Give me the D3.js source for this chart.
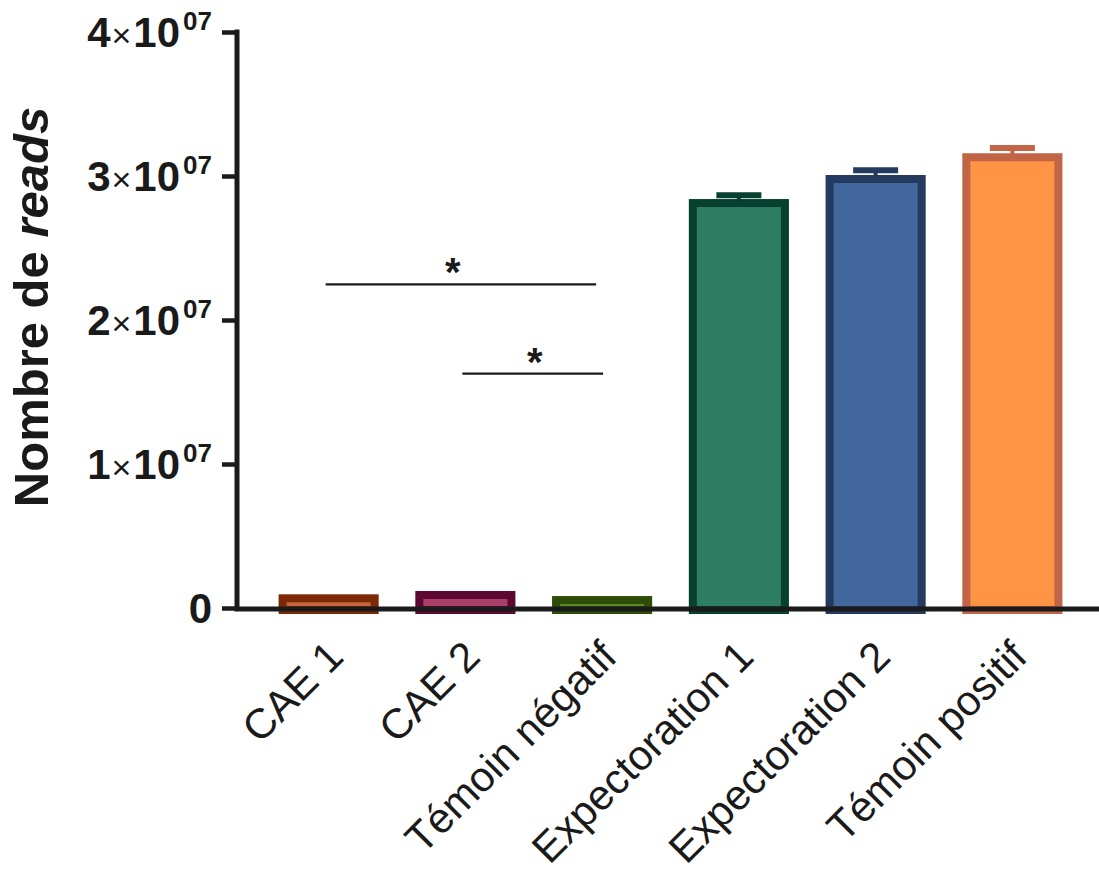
<!DOCTYPE html>
<html>
<head>
<meta charset="utf-8">
<script src="https://cdn.jsdelivr.net/npm/d3@7"></script>
<style>
  html, body { margin: 0; padding: 0; background: #fff; }
  svg { display: block; }
  text { font-family: "Liberation Sans", Arial, Helvetica, sans-serif; fill: #1a1a1a; }
</style>
</head>
<body>
<svg id="chart" width="1099" height="877"></svg>
<script>
// ---- data ----
const categories = ["CAE 1", "CAE 2", "Témoin négatif", "Expectoration 1", "Expectoration 2", "Témoin positif"];
const values = [950000, 1180000, 830000, 28400000, 30070000, 31580000];
const errors = [0, 0, 0, 470000, 530000, 570000];
const fillColors = ["#c8653f", "#a8406a", "#5d8a2a", "#2e7e64", "#42679c", "#fe9444"];
const strokeColors = ["#7b2a05", "#5c0830", "#2f4d09", "#07402e", "#243a5e", "#c26446"];
const yTicks = [0, 10000000, 20000000, 30000000, 40000000];
const yTickMantissa = ["0", "1", "2", "3", "4"];
const yTickExponent = "07";
// significance brackets: [from category, to category, y value]
const sigFrom = ["CAE 1", "CAE 2"];
const sigTo = ["Témoin négatif", "Témoin négatif"];
const sigY = [22480000, 16280000];
const sigLabel = ["*", "*"];

// ---- layout ----
const svg = d3.select("#chart");
const axisX = 237;
const y = d3.scaleLinear().domain([0, 40000000]).range([608, 32]);
const x = d3.scaleBand().domain(categories).range([axisX, 1104]).paddingInner(0.268).paddingOuter(0.304);

const SW = 8; // bar border width

// bars (border drawn inside the bar's extent)
const bars = svg.append("g");
categories.forEach((c, i) => {
  const x0 = x(c), w = x.bandwidth();
  const top = y(values[i]);
  const bottom = y(0);
  bars.append("rect")
    .attr("x", x0 + SW / 2)
    .attr("y", top + SW / 2)
    .attr("width", w - SW)
    .attr("height", Math.max(0, bottom - top - SW / 2 + 2))
    .attr("fill", fillColors[i])
    .attr("stroke", strokeColors[i])
    .attr("stroke-width", SW);
});

// error bars (upper only)
const eb = svg.append("g");
categories.forEach((c, i) => {
  if (!errors[i]) return;
  const cx = x(c) + x.bandwidth() / 2;
  const capTop = y(values[i] + errors[i]);
  const barTop = y(values[i]);
  eb.append("line")
    .attr("x1", cx).attr("x2", cx)
    .attr("y1", capTop + 3).attr("y2", barTop + 1)
    .attr("stroke", strokeColors[i]).attr("stroke-width", 4);
  eb.append("line")
    .attr("x1", cx - 22.5).attr("x2", cx + 22.5)
    .attr("y1", capTop + 3).attr("y2", capTop + 3)
    .attr("stroke", strokeColors[i]).attr("stroke-width", 6);
});

// y axis
const yAxisG = svg.append("g").attr("transform", `translate(${axisX},0)`);
yAxisG.call(d3.axisLeft(y).tickValues(yTicks).tickSize(15).tickFormat(() => ""));
yAxisG.select(".domain").attr("d", `M0,${y(40000000) - 2.5}V${y(0) + 3}`).attr("stroke", "#1a1a1a").attr("stroke-width", 5).attr("fill", "none");
yAxisG.selectAll(".tick line").attr("stroke", "#1a1a1a").attr("stroke-width", 4.5);
yAxisG.selectAll(".tick text").remove();

yTicks.forEach((v, i) => {
  const t = svg.append("text")
    .attr("x", 212)
    .attr("y", y(v))
    .attr("dy", "0.36em")
    .attr("text-anchor", "end")
    .style("font-size", "42px")
    .style("font-weight", "bold");
  if (v === 0) {
    t.text(yTickMantissa[i]);
  } else {
    t.append("tspan").text(yTickMantissa[i]);
    t.append("tspan").text("×").style("font-weight", "normal").style("font-size", "34px").attr("dx", "1");
    t.append("tspan").text("10").attr("dx", "2");
    t.append("tspan").text(yTickExponent).style("font-size", "26px").attr("dy", "-17").attr("dx", "3");
  }
});

// x axis line
const xAxisG = svg.append("g").attr("transform", `translate(0,${y(0) + 1})`);
xAxisG.call(d3.axisBottom(x).tickSize(0).tickFormat(() => ""));
xAxisG.select(".domain").attr("d", `M${axisX - 2.5},0H1099`).attr("stroke", "#1a1a1a").attr("stroke-width", 5);

// x labels, rotated
categories.forEach((c) => {
  const cx = x(c) + x.bandwidth() / 2;
  svg.append("text")
    .attr("transform", `translate(${cx + 17},${659}) rotate(-45)`)
    .attr("text-anchor", "end")
    .style("font-size", "42px")
    .text(c);
});

// y axis title
const title = svg.append("text")
  .attr("transform", `translate(48,${307}) rotate(-90)`)
  .attr("text-anchor", "middle")
  .style("font-size", "49px")
  .style("font-weight", "bold");
title.append("tspan").text("Nombre de ");
title.append("tspan").text("reads").style("font-style", "italic");

// significance lines
sigY.forEach((v, i) => {
  const xa = x(sigFrom[i]) + x.bandwidth() / 2 - 3;
  const xb = x(sigTo[i]) + x.bandwidth() / 2 - (i === 0 ? 6 : -1);
  svg.append("line")
    .attr("x1", xa).attr("x2", xb)
    .attr("y1", y(v)).attr("y2", y(v))
    .attr("stroke", "#1a1a1a").attr("stroke-width", 2.2);
  svg.append("text")
    .attr("x", (xa + xb) / 2 + (i === 0 ? -8 : 2))
    .attr("y", y(v) + 2)
    .attr("text-anchor", "middle")
    .style("font-size", "40px")
    .style("font-weight", "bold")
    .text(sigLabel[i]);
});
</script>
</body>
</html>
